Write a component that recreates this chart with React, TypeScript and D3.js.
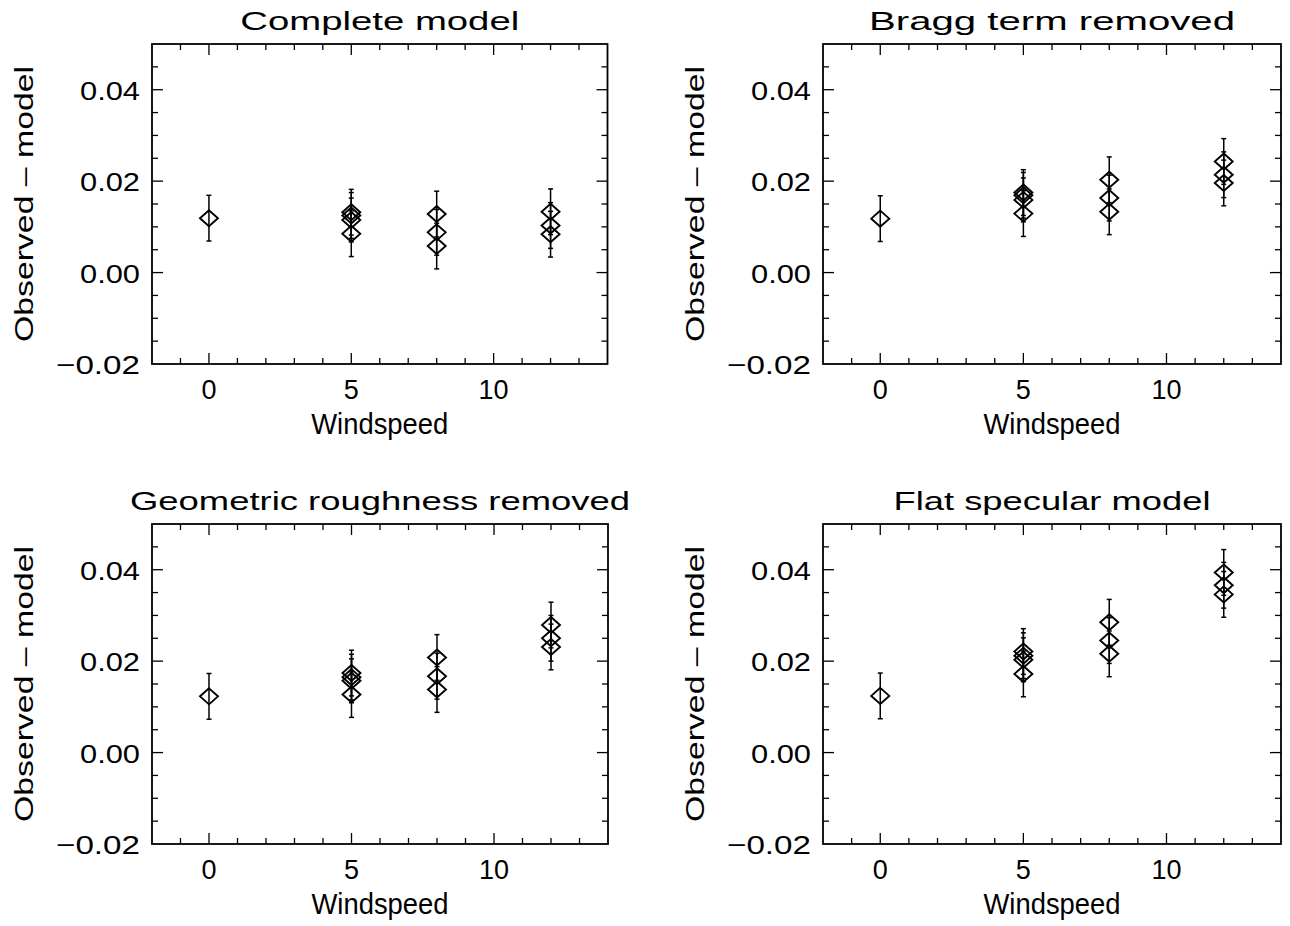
import React from "react";
import * as d3 from "d3";

// ---- data ----
const windspeed = [0, 5, 5, 5, 5, 8, 8, 8, 12, 12, 12];
const completeModel = [0.0119, 0.0132, 0.0125, 0.0115, 0.0085, 0.0128, 0.0088, 0.0058, 0.0133, 0.0103, 0.0084];
const braggRemoved = [0.0118, 0.0175, 0.0169, 0.0159, 0.0129, 0.0203, 0.0163, 0.0133, 0.0243, 0.0214, 0.0196];
const geometricRemoved = [0.0123, 0.0174, 0.0165, 0.0157, 0.0127, 0.0208, 0.0167, 0.0138, 0.0279, 0.025, 0.0231];
const flatSpecular = [0.0124, 0.0221, 0.0212, 0.0203, 0.0172, 0.0285, 0.0245, 0.0216, 0.0394, 0.0366, 0.0346];
const errorBars = [0.005, 0.005, 0.005, 0.0048, 0.005, 0.005, 0.005, 0.005, 0.005, 0.005, 0.005];

const panelTitles = ["Complete model", "Bragg term removed", "Geometric roughness removed", "Flat specular model"];
const panelSeries = [completeModel, braggRemoved, geometricRemoved, flatSpecular];

const xDomain: [number, number] = [-2, 14];
const yDomain: [number, number] = [-0.02, 0.05];
const xMajorTicks = [0, 5, 10];
const xMinorTicks = [-1, 0, 1, 2, 3, 4, 5, 6, 7, 8, 9, 10, 11, 12, 13];
const yMajorTicks = [-0.02, 0.0, 0.02, 0.04];
const yMinorTicks = [-0.015, -0.01, -0.005, 0, 0.005, 0.01, 0.015, 0.02, 0.025, 0.03, 0.035, 0.04, 0.045];
const xLabel = "Windspeed";
const yLabel = "Observed  \u2013  model";

// ---- layout ----
const W = 1290;
const H = 926;
const FONT = "'Liberation Sans', Arial, Helvetica, sans-serif";
const FS = 26;
const panels = [
  { x0: 152, x1: 607.5, y0: 44, y1: 364 },
  { x0: 823, x1: 1281, y0: 44, y1: 364 },
  { x0: 152, x1: 608, y0: 524, y1: 844 },
  { x0: 823, x1: 1281, y0: 524, y1: 844 },
];
const titleWidths = [279, 366, 500, 317];

const fmtY = (v: number) => {
  const s = Math.abs(v) < 1e-9 ? "0.00" : d3.format(".2f")(Math.abs(v));
  return v < -1e-9 ? "\u2212" + s : s;
};

function Panel({ idx }: { idx: number }) {
  const p = panels[idx];
  const values = panelSeries[idx];
  const x = d3.scaleLinear().domain(xDomain).range([p.x0, p.x1]);
  const y = d3.scaleLinear().domain(yDomain).range([p.y1, p.y0]);
  const major = 11;
  const minor = 6;
  const cx = (p.x0 + p.x1) / 2;
  const cy = (p.y0 + p.y1) / 2;
  const dW = 9;
  const dH = 8;
  const cap = 2.5;

  return (
    <g>
      <rect x={p.x0} y={p.y0} width={p.x1 - p.x0} height={p.y1 - p.y0} fill="none" stroke="#000" strokeWidth={1.8} />
      {xMinorTicks.map((t) => {
        const len = xMajorTicks.includes(t) ? major : minor;
        return (
          <g key={"xt" + t} stroke="#000" strokeWidth={1.3}>
            <line x1={x(t)} x2={x(t)} y1={p.y1} y2={p.y1 - len} />
            <line x1={x(t)} x2={x(t)} y1={p.y0} y2={p.y0 + len} />
          </g>
        );
      })}
      {yMinorTicks.map((t) => {
        const isMajor = yMajorTicks.some((m) => Math.abs(m - t) < 1e-9);
        const len = isMajor ? major : minor;
        return (
          <g key={"yt" + t} stroke="#000" strokeWidth={1.3}>
            <line x1={p.x0} x2={p.x0 + len} y1={y(t)} y2={y(t)} />
            <line x1={p.x1} x2={p.x1 - len} y1={y(t)} y2={y(t)} />
          </g>
        );
      })}
      {yMajorTicks.map((t) => {
        const s = fmtY(t);
        return (
          <text
            key={"yl" + t}
            x={p.x0 - 12}
            y={y(t) + 10}
            textAnchor="end"
            fontFamily={FONT}
            fontSize={FS}
            textLength={s.length === 5 ? 84 : 60}
            lengthAdjust="spacingAndGlyphs"
          >
            {s}
          </text>
        );
      })}
      {xMajorTicks.map((t) => (
        <text key={"xl" + t} x={x(t)} y={p.y1 + 35} textAnchor="middle" fontFamily={FONT} fontSize={27}>
          {String(t)}
        </text>
      ))}
      <text
        x={cx}
        y={p.y1 + 70}
        textAnchor="middle"
        fontFamily={FONT}
        fontSize={30}
        textLength={137}
        lengthAdjust="spacingAndGlyphs"
      >
        {xLabel}
      </text>
      <text
        transform={`translate(${p.x0 - 119},${cy}) rotate(-90)`}
        textAnchor="middle"
        fontFamily={FONT}
        fontSize={FS}
        textLength={276}
        lengthAdjust="spacingAndGlyphs"
      >
        {yLabel}
      </text>
      <text
        x={cx}
        y={p.y0 - 14}
        textAnchor="middle"
        fontFamily={FONT}
        fontSize={FS}
        textLength={titleWidths[idx]}
        lengthAdjust="spacingAndGlyphs"
      >
        {panelTitles[idx]}
      </text>
      {values.map((v, i) => {
        const px = x(windspeed[i]);
        const top = y(v + errorBars[i]);
        const bot = y(v - errorBars[i]);
        return (
          <g key={"e" + i} stroke="#000" strokeWidth={1.5}>
            <line x1={px} x2={px} y1={top} y2={bot} />
            <line x1={px - cap} x2={px + cap} y1={top} y2={top} />
            <line x1={px - cap} x2={px + cap} y1={bot} y2={bot} />
          </g>
        );
      })}
      {values.map((v, i) => {
        const px = x(windspeed[i]);
        const py = y(v);
        const path = d3.path();
        path.moveTo(px, py - dH);
        path.lineTo(px + dW, py);
        path.lineTo(px, py + dH);
        path.lineTo(px - dW, py);
        path.closePath();
        return <path key={"d" + i} d={path.toString()} fill="none" stroke="#000" strokeWidth={1.9} />;
      })}
    </g>
  );
}

export default function App() {
  return (
    <svg
      width={W}
      height={H}
      viewBox={`0 0 ${W} ${H}`}
      style={{ position: "absolute", left: 0, top: 0, background: "#fff" }}
    >
      <rect x={0} y={0} width={W} height={H} fill="#fff" />
      {panels.map((_, i) => (
        <Panel key={i} idx={i} />
      ))}
    </svg>
  );
}
